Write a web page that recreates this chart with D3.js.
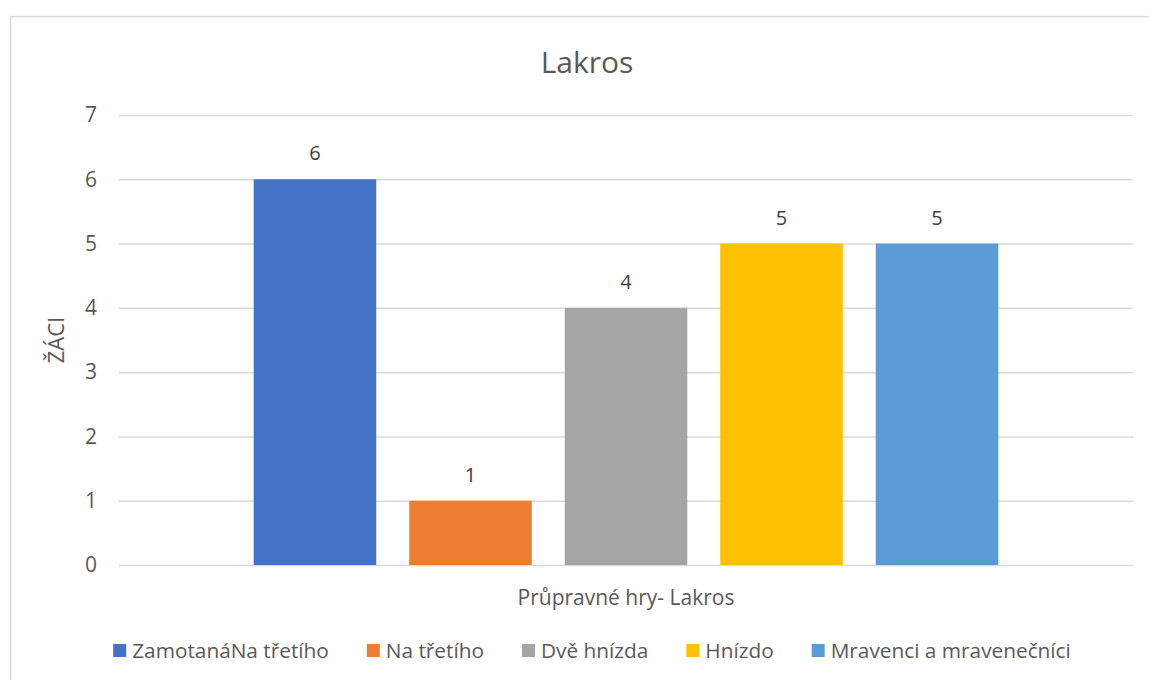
<!DOCTYPE html>
<html>
<head>
<meta charset="utf-8">
<script src="https://cdn.jsdelivr.net/npm/d3@7"></script>
<style>
  body { margin: 0; background: #fff; }
  svg { font-family: "Open Sans", "Noto Sans", sans-serif; }
</style>
</head>
<body>
<div id="chart"></div>
<script>
// Data
const title = "Lakros";
const categories = ["Průpravné hry- Lakros"];
const seriesNames = ["ZamotanáNa třetího", "Na třetího", "Dvě hnízda", "Hnízdo", "Mravenci a mravenečníci"];
const seriesValues = [6, 1, 4, 5, 5];
const seriesColors = ["#4472C4", "#ED7D31", "#A5A5A5", "#FFC000", "#5B9BD5"];
const yTicks = [0, 1, 2, 3, 4, 5, 6, 7];
const yTitle = "ŽÁCI";

const width = 1149;
const height = 680;

// Plot area
const plot = { left: 119, right: 1133, top: 115, bottom: 565 };

const svg = d3
  .select("#chart")
  .append("svg")
  .attr("width", width)
  .attr("height", height);

// Chart frame (runs off the right and bottom edge like the original)
svg
  .append("rect")
  .attr("x", 10.5)
  .attr("y", 16.5)
  .attr("width", 1200)
  .attr("height", 700)
  .attr("fill", "none")
  .attr("stroke", "#d9d9d9")
  .attr("stroke-width", 1.5);

// Scales
const y = d3.scaleLinear().domain([0, 7]).range([plot.bottom, plot.top]);

const x0 = d3
  .scaleBand()
  .domain(categories)
  .range([plot.left, plot.right])
  .paddingOuter(0.152);

const x1 = d3
  .scaleBand()
  .domain(seriesNames)
  .range([0, x0.bandwidth()])
  .paddingInner(0.212)
  .paddingOuter(0.106);

// Gridlines + y tick labels
const yAxis = svg
  .append("g")
  .attr("transform", `translate(${plot.left},0)`)
  .call(
    d3
      .axisLeft(y)
      .tickValues(yTicks)
      .tickFormat(d3.format("d"))
      .tickSize(-(plot.right - plot.left))
      .tickPadding(22)
  );
yAxis.select(".domain").remove();
yAxis
  .selectAll(".tick line")
  .attr("stroke", "#d9d9d9")
  .attr("stroke-width", 1.5);
yAxis
  .selectAll(".tick text")
  .attr("fill", "#595959")
  .attr("font-size", 21)
  .attr("font-family", "Open Sans");

// Bars
const group = svg
  .append("g")
  .attr("transform", `translate(${x0(categories[0])},0)`);

group
  .selectAll("rect")
  .data(seriesNames)
  .join("rect")
  .attr("x", (d) => x1(d))
  .attr("y", (d, i) => y(seriesValues[i]))
  .attr("width", x1.bandwidth())
  .attr("height", (d, i) => y(0) - y(seriesValues[i]))
  .attr("fill", (d, i) => seriesColors[i]);

// Data labels
group
  .selectAll("text")
  .data(seriesNames)
  .join("text")
  .attr("x", (d) => x1(d) + x1.bandwidth() / 2)
  .attr("y", (d, i) => y(seriesValues[i]) - 19)
  .attr("text-anchor", "middle")
  .attr("font-size", 20)
  .attr("fill", "#404040")
  .text((d, i) => seriesValues[i]);

// Title
svg
  .append("text")
  .attr("x", 587)
  .attr("y", 73)
  .attr("text-anchor", "middle")
  .attr("font-size", 30)
  .attr("fill", "#595959")
  .text(title);

// Axis titles
svg
  .append("text")
  .attr("x", x0(categories[0]) + x0.bandwidth() / 2)
  .attr("y", 605)
  .attr("text-anchor", "middle")
  .attr("font-size", 21)
  .attr("fill", "#595959")
  .text(categories[0]);

svg
  .append("text")
  .attr("transform", `translate(64,${(plot.top + plot.bottom) / 2}) rotate(-90)`)
  .attr("text-anchor", "middle")
  .attr("font-size", 22)
  .attr("fill", "#595959")
  .text(yTitle);

// Legend
const legend = svg.append("g");
const items = legend
  .selectAll("g")
  .data(seriesNames)
  .join("g");

items
  .append("rect")
  .attr("y", 644)
  .attr("width", 13)
  .attr("height", 13)
  .attr("fill", (d, i) => seriesColors[i]);

items
  .append("text")
  .attr("x", 19)
  .attr("y", 658)
  .attr("font-size", 20.8)
  .attr("fill", "#595959")
  .text((d) => d);

// Lay out the legend items side by side and center them
let offset = 0;
const positions = [];
items.each(function () {
  const w = d3.select(this).select("text").node().getComputedTextLength();
  positions.push(offset);
  offset += 19 + w + 38;
});
const total = offset - 38;
const start = 592 - total / 2;
items.attr("transform", (d, i) => `translate(${start + positions[i]},0)`);
</script>
</body>
</html>
